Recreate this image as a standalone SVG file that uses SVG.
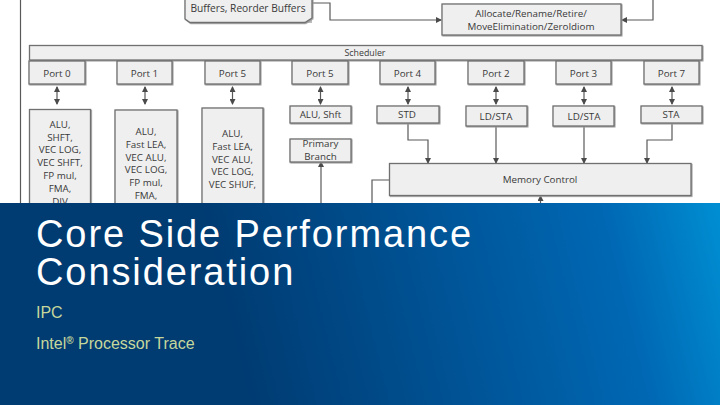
<svg xmlns="http://www.w3.org/2000/svg" width="720" height="405" viewBox="0 0 720 405">
<style>
text{font-family:"Open Sans","Liberation Sans",sans-serif}
.b{fill:#efefef;stroke:#6f6f6f;stroke-width:1.3;filter:url(#s)}
.l{font-size:9.800px;fill:#3a3a3a;text-anchor:middle}
.c{fill:none;stroke:#595959;stroke-width:1.2}
.a{marker-end:url(#m)}
.d{marker-end:url(#m);marker-start:url(#n)}
.t{font-family:"Liberation Sans",Arial,sans-serif;font-size:38px;fill:#fff;letter-spacing:1.9px}
.st{font-family:"Liberation Sans",Arial,sans-serif;font-size:16px;fill:#c6d79c}
</style>
<defs>
<filter id="s" x="-5%" y="-5%" width="112%" height="115%"><feDropShadow dx="0.8" dy="0.8" stdDeviation="0.4" flood-color="#999"/></filter>
<marker id="m" markerWidth="6" markerHeight="6" refX="5" refY="3" orient="auto" markerUnits="userSpaceOnUse"><path d="M0 0L6 3L0 6Z" fill="#4a4a4a"/></marker>
<marker id="n" markerWidth="6" markerHeight="6" refX="1" refY="3" orient="auto" markerUnits="userSpaceOnUse"><path d="M6 0L0 3L6 6Z" fill="#4a4a4a"/></marker>
<linearGradient id="g" gradientUnits="userSpaceOnUse" x1="230" y1="330" x2="720" y2="210"><stop offset="0" stop-color="#003b72"/><stop offset="0.3" stop-color="#004c8b"/><stop offset="0.78" stop-color="#0068b4"/><stop offset="1" stop-color="#008ed2"/></linearGradient>
</defs>
<rect width="720" height="405" fill="#fff"/>
<g id="connectors">
<path class="c" d="M20.500 0V203"/>
<path class="c a" d="M312 3H330V20H441"/>
<path class="c a" d="M653 0V20H622"/>
<path class="c d" d="M57 87V104"/><path class="c d" d="M145 87V104"/><path class="c d" d="M232.500 87V104"/><path class="c d" d="M320.500 87V104"/>
<path class="c d" d="M408 87V104"/><path class="c d" d="M496 87V104"/><path class="c d" d="M584 87V104"/><path class="c d" d="M672 87V104"/>
<path class="c a" d="M408 123V140H428V163"/>
<path class="c a" d="M496 126V163"/>
<path class="c a" d="M584 126V163"/>
<path class="c a" d="M672 123V140H647V163"/>
<path class="c" d="M389 180H372V203"/>
<path class="c a" d="M321 203V162"/>
<path class="c a" d="M540.500 203V196"/>
</g>
<g id="buffers"><path d="M312 8V23H305Z" fill="#bdbdbd"/><path class="b" d="M185 -2H312V18L305 22.500H190L185 19Z"/><text class="l" x="248" y="12" style="font-size:10.200px">Buffers, Reorder Buffers</text></g>
<g id="allocate"><rect class="b" x="442" y="4" width="179" height="31"/><text class="l" x="531" y="17">Allocate/Rename/Retire/</text><text class="l" x="531" y="30">MoveElimination/ZeroIdiom</text></g>
<g id="scheduler"><rect class="b" x="29.500" y="45.500" width="672.500" height="14.500"/><text class="l" x="365" y="55.500" style="font-size:8.800px">Scheduler</text></g>
<g id="port0a"><rect class="b" x="29" y="61" width="56" height="23"/><text class="l" x="57" y="77">Port 0</text></g>
<g id="port1"><rect class="b" x="117" y="61" width="55" height="23"/><text class="l" x="144.500" y="77">Port 1</text></g>
<g id="port5a"><rect class="b" x="205" y="61" width="55" height="23"/><text class="l" x="232.500" y="77">Port 5</text></g>
<g id="port5b"><rect class="b" x="292" y="61" width="56" height="23"/><text class="l" x="320" y="77">Port 5</text></g>
<g id="port4"><rect class="b" x="380" y="61" width="55" height="23"/><text class="l" x="407.500" y="77">Port 4</text></g>
<g id="port2"><rect class="b" x="468" y="61" width="56" height="23"/><text class="l" x="496" y="77">Port 2</text></g>
<g id="port3"><rect class="b" x="556" y="61" width="55" height="23"/><text class="l" x="583.500" y="77">Port 3</text></g>
<g id="port7"><rect class="b" x="644" y="61" width="55" height="23"/><text class="l" x="671.500" y="77">Port 7</text></g>
<g id="exec0"><rect class="b" x="29.500" y="109.500" width="61" height="100"/>
<text class="l" x="60" y="128">ALU,</text><text class="l" x="60" y="141">SHFT,</text><text class="l" x="60" y="153">VEC LOG,</text><text class="l" x="60" y="166">VEC SHFT,</text><text class="l" x="60" y="179">FP mul,</text><text class="l" x="60" y="192">FMA,</text><text class="l" x="60" y="205">DIV</text></g>
<g id="exec1"><rect class="b" x="115" y="110" width="62" height="100"/>
<text class="l" x="146" y="135">ALU,</text><text class="l" x="146" y="148">Fast LEA,</text><text class="l" x="146" y="161">VEC ALU,</text><text class="l" x="146" y="173">VEC LOG,</text><text class="l" x="146" y="186">FP mul,</text><text class="l" x="146" y="199">FMA,</text></g>
<g id="exec5"><rect class="b" x="202" y="108" width="61" height="100"/>
<text class="l" x="232.500" y="137">ALU,</text><text class="l" x="232.500" y="150">Fast LEA,</text><text class="l" x="232.500" y="163">VEC ALU,</text><text class="l" x="232.500" y="175">VEC LOG,</text><text class="l" x="232.500" y="188">VEC SHUF,</text></g>
<g id="alushft"><rect class="b" x="290" y="106" width="61" height="17"/><text class="l" x="320.500" y="118">ALU, Shft</text></g>
<g id="branch"><rect class="b" x="290" y="139" width="61" height="23"/><text class="l" x="320.500" y="147">Primary</text><text class="l" x="320.500" y="160">Branch</text></g>
<g id="std"><rect class="b" x="377" y="106" width="62" height="17"/><text class="l" x="407" y="118">STD</text></g>
<g id="ldsta1"><rect class="b" x="466" y="106" width="61" height="20"/><text class="l" x="496" y="120">LD/STA</text></g>
<g id="ldsta2"><rect class="b" x="553" y="106" width="61" height="20"/><text class="l" x="584" y="120">LD/STA</text></g>
<g id="sta"><rect class="b" x="641" y="106" width="61" height="17"/><text class="l" x="671" y="118">STA</text></g>
<g id="memory"><rect class="b" x="389.500" y="163.500" width="301.500" height="32"/><text class="l" x="540" y="183">Memory Control</text></g>
<g id="banner"><rect x="0" y="203" width="720" height="202" fill="url(#g)"/>
<text class="t" x="36" y="247">Core Side Performance</text>
<text class="t" x="36" y="285">Consideration</text>
<text class="st" x="36" y="318">IPC</text>
<text class="st" x="36" y="349">Intel<tspan font-size="10" font-weight="bold" dy="-5">®</tspan><tspan dy="5"> Processor Trace</tspan></text></g>
</svg>
